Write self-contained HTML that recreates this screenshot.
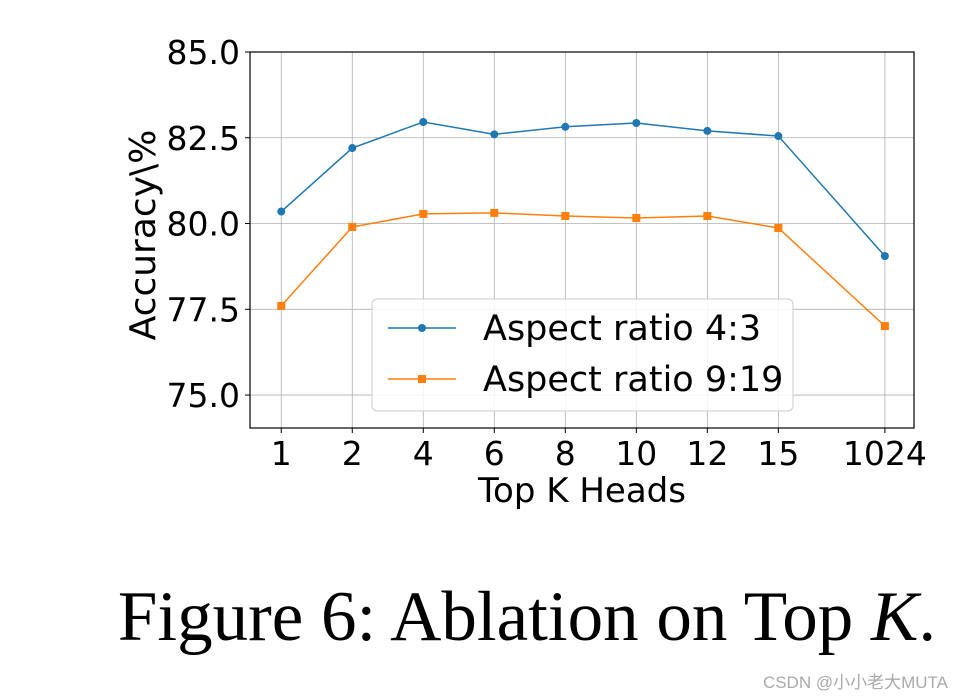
<!DOCTYPE html>
<html><head><meta charset="utf-8"><style>
html,body{margin:0;padding:0;background:#fff;width:959px;height:700px;overflow:hidden}
svg{display:block}
</style></head><body>
<svg id="chart" width="959" height="700" xmlns="http://www.w3.org/2000/svg">
<g id="grid"></g>
<g id="series"></g>
<rect x="250" y="52" width="664" height="376" fill="none" stroke="#000" stroke-width="1.2"/>
<g id="ticks" font-family="DejaVu Sans, Liberation Sans, sans-serif" font-size="33" fill="#000"></g>
<text x="582" y="502" text-anchor="middle" font-family="DejaVu Sans, Liberation Sans, sans-serif" font-size="34">Top K Heads</text>
<text transform="translate(155,235) rotate(-90)" text-anchor="middle" font-family="DejaVu Sans, Liberation Sans, sans-serif" font-size="36">Accuracy\%</text>
<g>
<rect x="372" y="299" width="421" height="112" rx="5" fill="#fff" fill-opacity="0.85" stroke="#ccc"/>
<g>
<line x1="388" y1="328" x2="456" y2="328" stroke="#1f77b4" stroke-width="1.5"/><circle cx="422" cy="328" r="4" fill="#1f77b4"/>
<text x="483" y="340" font-family="DejaVu Sans, Liberation Sans, sans-serif" font-size="35">Aspect ratio 4:3</text></g>
<g>
<line x1="388" y1="379" x2="456" y2="379" stroke="#ff7f0e" stroke-width="1.5"/><rect x="418" y="375" width="8" height="8" fill="#ff7f0e"/>
<text x="483" y="391" font-family="DejaVu Sans, Liberation Sans, sans-serif" font-size="35">Aspect ratio 9:19</text></g>
</g>
<text x="527" y="640" text-anchor="middle" font-family="Liberation Serif, serif" font-size="71">Figure 6: Ablation on Top <tspan font-style="italic">K</tspan>.</text>
<text x="948" y="688" text-anchor="end" font-family="Liberation Sans, Noto Sans CJK SC, sans-serif" font-size="17" fill="#aaa">CSDN @小小老大MUTA</text>
</svg>
<script>
const categories=["1","2","4","6","8","10","12","15","1024"];
const catPos=[0,1,2,3,4,5,6,7,8.5];
const series43=[80.35,82.2,82.96,82.6,82.82,82.93,82.7,82.55,79.05];
const series919=[77.6,79.9,80.28,80.31,80.22,80.16,80.22,79.87,77.01];
const yTicks=[75.0,77.5,80.0,82.5,85.0];
const NS="http://www.w3.org/2000/svg";
const X0=250,X1=914,Y0=52,Y1=428,xmin=-0.44,xmax=8.91,ymin=74.04,ymax=85;
const xs=v=>X0+(v-xmin)/(xmax-xmin)*(X1-X0);
const ys=v=>Y1-(v-ymin)/(ymax-ymin)*(Y1-Y0);
function mk(t,a,p){const e=document.createElementNS(NS,t);for(const k in a)e.setAttribute(k,a[k]);p.appendChild(e);return e;}
const grid=document.getElementById('grid'),ticks=document.getElementById('ticks'),ser=document.getElementById('series');
catPos.forEach((p,i)=>{const x=xs(p);
const g=mk('line',{x1:x,x2:x,y1:Y0,y2:Y1,stroke:'#b0b0b0','stroke-width':0.8},grid);


mk('line',{x1:x,x2:x,y1:Y1,y2:Y1+5,stroke:'#000'},ticks);
const t=mk('text',{x:x,y:Y1+37,'text-anchor':'middle'},ticks);t.textContent=categories[i];

});
yTicks.forEach(v=>{const y=ys(v);
const g=mk('line',{x1:X0,x2:X1,y1:y,y2:y,stroke:'#b0b0b0','stroke-width':0.8},grid);


mk('line',{x1:X0-5,x2:X0,y1:y,y2:y,stroke:'#000'},ticks);
const t=mk('text',{x:X0-10,y:y+12,'text-anchor':'end'},ticks);t.textContent=v.toFixed(1);

});
function draw(vals,color,shape,name){
const pts=vals.map((v,i)=>xs(catPos[i])+','+ys(v)).join(' ');
const l=mk('polyline',{points:pts,fill:'none',stroke:color,'stroke-width':1.5},ser);


vals.forEach((v,i)=>{const x=xs(catPos[i]),y=ys(v);let m;
if(shape==='c')m=mk('circle',{cx:x,cy:y,r:4,fill:color},ser);
else m=mk('rect',{x:x-4,y:y-4,width:8,height:8,fill:color},ser);

});}
draw(series43,'#1f77b4','c','aspect-4-3');
draw(series919,'#ff7f0e','s','aspect-9-19');
</script>
</body></html>
